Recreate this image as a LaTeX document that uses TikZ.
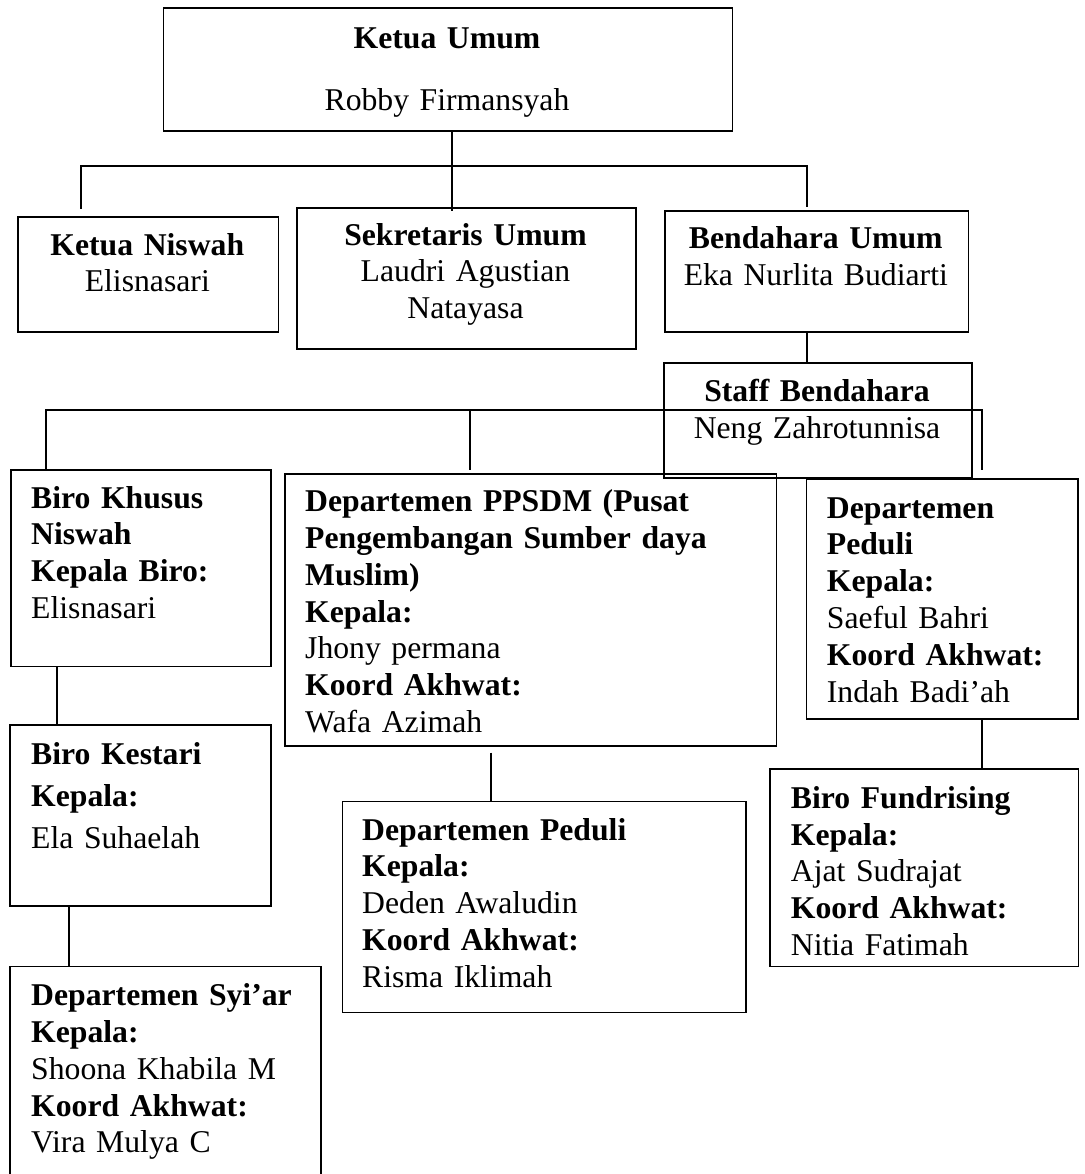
\documentclass[tikz,border=0pt]{standalone}
\usepackage{fontspec}
\setmainfont{Liberation Serif}
\begin{document}
\begin{tikzpicture}[x=1pt,y=-1pt,
  box/.style={draw, line width=1.7pt, inner sep=0, anchor=north west},
  conn/.style={line width=1.9pt},
  tl/.style={anchor=base west, inner sep=0, align=left, text width=480pt, font=\fontsize{31.7}{36.8}\selectfont},
  tc/.style={anchor=base, inner sep=0, align=center, text width=400pt, font=\fontsize{31.7}{36.8}\selectfont}]
\useasboundingbox (0,0) rectangle (1084,1174);
\clip (0,0) rectangle (1084,1174);

% boxes
\node[box, minimum width=569pt,   minimum height=122.7pt] (top)     at (162.5,7.3) {};
\node[box, minimum width=260.5pt, minimum height=115pt]   (niswah)  at (17,216) {};
\node[box, minimum width=339pt,   minimum height=141pt]   (sekre)   at (296,207) {};
\node[box, minimum width=303.5pt, minimum height=121pt]   (benda)   at (664,210) {};
\node[box, minimum width=308pt,   minimum height=115pt]   (staff)   at (663,362) {};
\node[box, minimum width=260pt,   minimum height=196.7pt] (khusus)  at (10,469) {};
\node[box, minimum width=491.7pt, minimum height=272pt]   (ppsdm)   at (284,473) {};
\node[box, minimum width=271.6pt, minimum height=240pt]   (peduli1) at (805.7,478.3) {};
\node[box, minimum width=260.7pt, minimum height=181pt]   (kestari) at (9.3,724) {};
\node[box, minimum width=310.7pt, minimum height=240pt]   (syiar)   at (9.3,965.7) {};
\node[box, minimum width=403.3pt, minimum height=211pt]   (peduli2) at (341.7,800.7) {};
\node[box, minimum width=308.7pt, minimum height=197.4pt] (fund)    at (769,768.3) {};

% texts
\node[tc] (tTop) at (447,48.3) {\textbf{Ketua Umum}\\[25pt]Robby Firmansyah};
\node[tc] (tNiswah) at (147.3,255) {\textbf{Ketua Niswah}\\Elisnasari};
\node[tc] (tSekre) at (465.5,245) {\textbf{Sekretaris Umum}\\Laudri Agustian\\Natayasa};
\node[tc] (tBenda) at (815.8,248.3) {\textbf{Bendahara Umum}\\Eka Nurlita Budiarti};
\node[tc] (tStaff) at (817,401.7) {\textbf{Staff Bendahara}\\Neng Zahrotunnisa};

\node[tl] (tKhusus) at (31,508) {\textbf{Biro Khusus}\\\textbf{Niswah}\\\textbf{Kepala Biro:}\\Elisnasari};
\node[tl] (tPpsdm) at (305,511.7) {\textbf{Departemen PPSDM (Pusat}\\\textbf{Pengembangan Sumber daya}\\\textbf{Muslim)}\\\textbf{Kepala:}\\Jhony permana\\\textbf{Koord Akhwat:}\\Wafa Azimah};
\node[tl] (tPeduli1) at (826.7,518) {\textbf{Departemen}\\\textbf{Peduli}\\\textbf{Kepala:}\\Saeful Bahri\\\textbf{Koord Akhwat:}\\Indah Badi’ah};
\node[tl, font=\fontsize{31.7}{42}\selectfont] (tKestari) at (31,764) {\textbf{Biro Kestari}\\\textbf{Kepala:}\\Ela Suhaelah};
\node[tl] (tSyiar) at (31,1005.7) {\textbf{Departemen Syi’ar}\\\textbf{Kepala:}\\Shoona Khabila M\\\textbf{Koord Akhwat:}\\Vira Mulya C};
\node[tl] (tPeduli2) at (362,840) {\textbf{Departemen Peduli}\\\textbf{Kepala:}\\Deden Awaludin\\\textbf{Koord Akhwat:}\\Risma Iklimah};
\node[tl] (tFund) at (790.7,808.3) {\textbf{Biro Fundrising}\\\textbf{Kepala:}\\Ajat Sudrajat\\\textbf{Koord Akhwat:}\\Nitia Fatimah};

% connector coordinates
\coordinate (bl) at (81,166);
\coordinate (br) at (807,166);
\coordinate (cl) at (45.7,410);
\coordinate (cm) at (470,410);
\coordinate (cr) at (981.7,410);
\coordinate (k1) at (56.7,0);
\coordinate (k2) at (69,0);
\coordinate (k3) at (490.7,0);

% connectors
\draw[conn] ([xshift=4pt]top.south) -- ([xshift=4pt,yshift=-4pt]top.south |- sekre.north);
\draw[conn] ([yshift=7pt]bl |- niswah.north) -- (bl) -- (br) -- ([yshift=3pt]br |- benda.north);
\draw[conn] (benda.south -| br) -- (br |- staff.north);
\draw[conn] (cl |- khusus.north) -- (cl) -- (cr) -- ([yshift=8pt]cr |- peduli1.north);
\draw[conn] (cm) -- ([yshift=3pt]cm |- ppsdm.north);
\draw[conn] (khusus.south -| k1) -- (k1 |- kestari.north);
\draw[conn] (kestari.south -| k2) -- (k2 |- syiar.north);
\draw[conn] ([yshift=-6pt]ppsdm.south -| k3) -- (k3 |- peduli2.north);
\draw[conn] (peduli1.south -| cr) -- (cr |- fund.north);
\end{tikzpicture}
\end{document}
